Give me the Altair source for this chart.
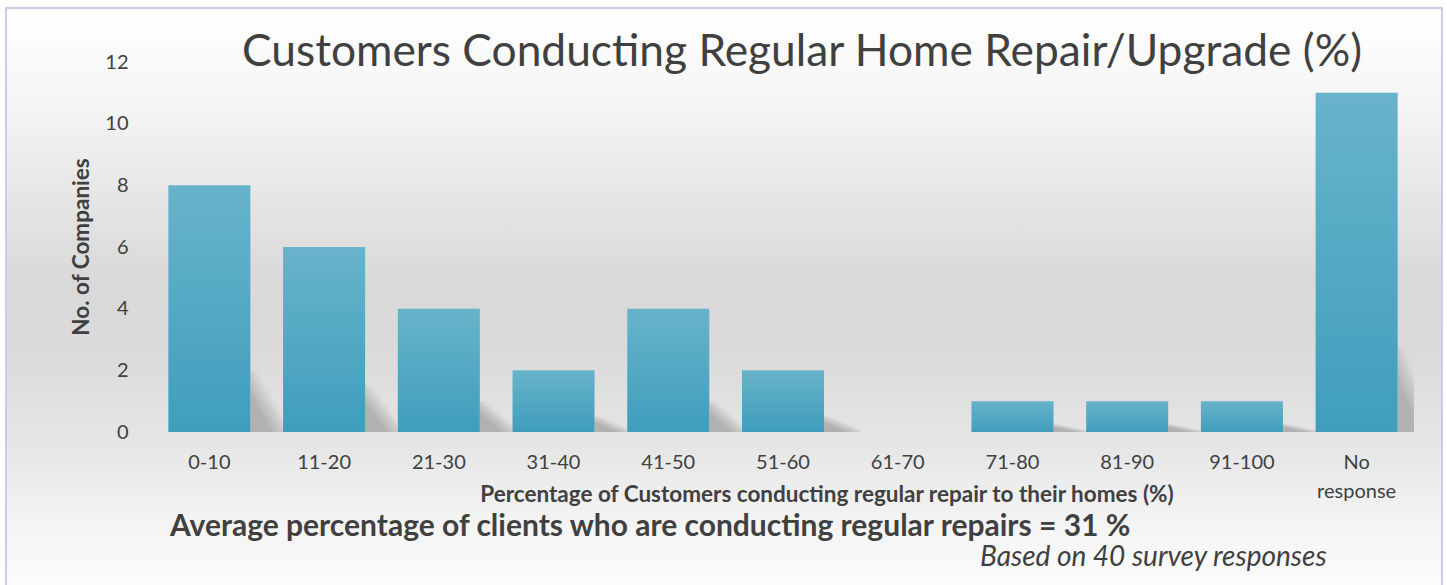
import altair as alt
import pandas as pd

categories = ["0-10", "11-20", "21-30", "31-40", "41-50", "51-60",
              "61-70", "71-80", "81-90", "91-100", "No response"]
companies = [8, 6, 4, 2, 4, 2, 0, 1, 1, 1, 11]
y_ticks = [0, 2, 4, 6, 8, 10, 12]

title_text = "Customers Conducting Regular Home Repair/Upgrade (%)"
y_title = "No. of Companies"
x_title = "Percentage of Customers conducting regular repair to their homes (%)"
avg_note = "Average percentage of clients who are conducting regular repairs = 31 %"
source_note = "Based on 40 survey responses"

df = pd.DataFrame({"range": categories, "companies": companies})
one = pd.DataFrame({"k": [0]})

W, H = 1262, 370
PAD_L, PAD_T, PAD_R, PAD_B = 152, 62, 33, 153
FONT = "Lato"
DARK = "#404040"

x_enc = alt.X(
    "range:N", sort=categories,
    scale=alt.Scale(paddingInner=0.285, paddingOuter=0.1425),
    axis=alt.Axis(title=None, labelAngle=0, domain=False, ticks=False, tickSize=0,
                  grid=False, labelPadding=20, labelFontSize=20, labelFont=FONT,
                  labelColor=DARK, labelExpr="split(datum.label, ' ')",
                  labelLineHeight=29, labelBaseline="top", zindex=2),
)
y_enc = alt.Y(
    "companies:Q",
    scale=alt.Scale(domain=[0, 12], nice=False),
    axis=alt.Axis(title=None, values=y_ticks, domain=False, ticks=False, tickSize=0,
                  grid=False, labelPadding=24, labelFontSize=20, labelFont=FONT,
                  labelColor=DARK, zindex=2),
)

background = alt.Chart(one).mark_rect(
    stroke="#cfc9ee", strokeWidth=2,
    fill={"gradient": "linear", "x1": 0, "y1": 0, "x2": 0, "y2": 1,
          "stops": [{"offset": 0.0, "color": "#ffffff"},
                    {"offset": 0.16, "color": "#f5f5f5"},
                    {"offset": 0.46, "color": "#d9d9d9"},
                    {"offset": 0.57, "color": "#dadada"},
                    {"offset": 0.74, "color": "#e6e6e6"},
                    {"offset": 0.86, "color": "#f3f3f3"},
                    {"offset": 1.0, "color": "#fdfdfd"}]},
).encode(
    x=alt.value(6 - PAD_L), x2=alt.value(1442 - PAD_L),
    y=alt.value(8 - PAD_T), y2=alt.value(600 - PAD_T),
)

shadow = alt.Chart(df).transform_calculate(
    sh="datum.companies * 0.25"
).transform_filter("datum.companies > 0").mark_bar(
    width=36, xOffset=59, clip=True,
    fill={"gradient": "linear", "x1": 0, "y1": 1, "x2": 1, "y2": 0,
          "stops": [{"offset": 0.0, "color": "rgba(176,176,176,1)"},
                    {"offset": 0.3, "color": "rgba(178,178,178,1)"},
                    {"offset": 0.48, "color": "rgba(190,190,190,0.6)"},
                    {"offset": 0.62, "color": "rgba(210,210,210,0)"},
                    {"offset": 1.0, "color": "rgba(210,210,210,0)"}]},
).encode(x=x_enc, y=alt.Y("sh:Q", scale=alt.Scale(domain=[0, 12], nice=False)))

bars = alt.Chart(df).mark_bar(
    fill={"gradient": "linear", "x1": 0, "y1": 0, "x2": 0, "y2": 1,
          "stops": [{"offset": 0.0, "color": "#68b3cb"},
                    {"offset": 1.0, "color": "#3f9ebc"}]},
).encode(x=x_enc, y=y_enc)


def label(text, x, y, size, weight="normal", style="normal", align="center",
          angle=0, baseline="middle"):
    return alt.Chart(one).mark_text(
        text=text, font=FONT, fontSize=size, fontWeight=weight, fontStyle=style,
        color=DARK, align=align, baseline=baseline, angle=angle,
    ).encode(x=alt.value(x - PAD_L), y=alt.value(y - PAD_T))


title = label(title_text, 802, 53, 44.3)
ytitle = label(y_title, 82, 247, 22.5, weight="bold", angle=270)
xtitle = label(x_title, 827, 495, 22.5, weight="bold")
avg = label(avg_note, 170, 527, 30, weight="bold", align="left")
src = label(source_note, 980, 558, 28, style="italic", align="left")

chart = alt.layer(background, shadow, bars, title, ytitle, xtitle, avg, src).properties(
    width=W, height=H,
    padding={"left": PAD_L, "top": PAD_T, "right": PAD_R, "bottom": PAD_B},
    autosize=alt.AutoSizeParams(type="none"),
    background="#ffffff",
).configure_view(stroke=None)

chart.save("out.html", embed_options={"renderer": "svg", "actions": False})
